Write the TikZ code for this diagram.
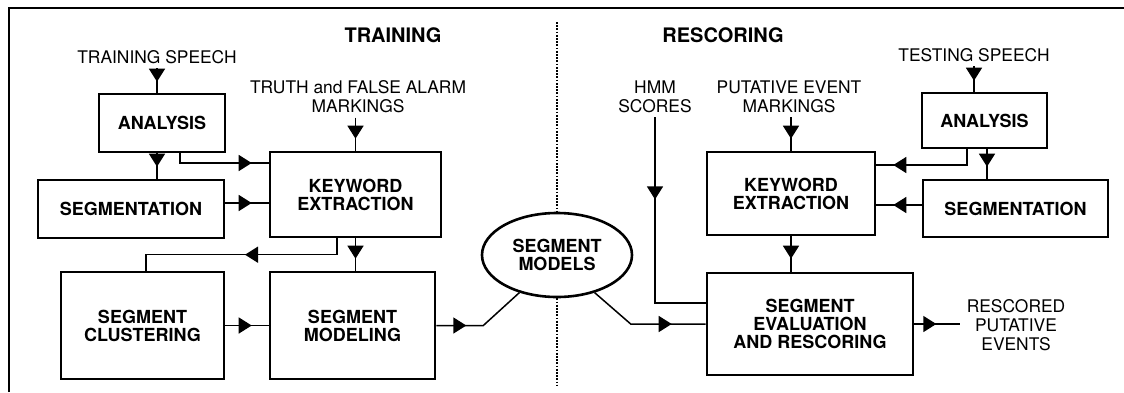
\documentclass[tikz,border=0pt]{standalone}
\usepackage{fontspec}
\setmainfont{TeX Gyre Heros}
\usetikzlibrary{arrows.meta,shapes.geometric,decorations.markings,calc}
\tikzset{
    block/.style={
           rectangle,
           draw=black, line width=1.3pt,
           font=\fontsize{9}{9}\selectfont\bfseries,
           align=center,
           inner sep=0pt,
           },
    lbl/.style={
           align=center, inner sep=2pt,
           font=\fontsize{8.7}{9.5}\selectfont,
           },
    conn/.style={line width=0.75pt},
    midarrow/.style={
           postaction={decorate},
           decoration={markings, mark=at position #1 with {\arrow{Triangle[length=6.5pt,width=8pt]}}},
           },
}

\begin{document}
\begin{tikzpicture}[x=0.5pt,y=-0.5pt]
        \useasboundingbox (0,0) rectangle (1124,392);
        \coordinate (frbl) at (9,392);
        \coordinate (frtl) at (9,8);
        \coordinate (frtr) at (1124,8);
        \draw[line width=0.8pt] (frbl) -- (frtl) -- (frtr);

        \node[lbl, font=\fontsize{10}{12}\selectfont\bfseries] (train) at (393,35) {TRAINING};
        \node[lbl, font=\fontsize{10}{12}\selectfont\bfseries] (rescore) at (723,35) {RESCORING};

        % training side
        \node[lbl] (tspeech) at (157,57) {TRAINING SPEECH};
        \node[lbl] (truth) at (358,97) {TRUTH and FALSE ALARM\\MARKINGS};
        \node[block, minimum width=63pt, minimum height=29pt] (anaL) at (162,123) {ANALYSIS};
        \node[block, minimum width=93pt, minimum height=29pt] (segL) at (131,209) {SEGMENTATION};
        \node[block, minimum width=85.5pt, minimum height=42.5pt] (keL) at (355.5,194.5) {KEYWORD\\EXTRACTION};
        \node[block, minimum width=81.5pt, minimum height=53.5pt] (cluL) at (142.5,325.5) {SEGMENT\\CLUSTERING};
        \node[block, minimum width=82.5pt, minimum height=53.5pt] (modL) at (352.5,325.5) {SEGMENT\\MODELING};

        \node[block, ellipse, minimum width=75pt, minimum height=42pt] (models) at (557,255) {SEGMENT\\MODELS};

        % rescoring side
        \node[lbl] (hmm) at (655,97) {HMM\\SCORES};
        \node[lbl] (put) at (789,97) {PUTATIVE EVENT\\MARKINGS};
        \node[lbl] (tspeechR) at (974,55) {TESTING SPEECH};
        \node[block, minimum width=84pt, minimum height=41.5pt] (keR) at (791,193.5) {KEYWORD\\EXTRACTION};
        \node[block, minimum width=62.5pt, minimum height=27.5pt] (anaR) at (984.5,120.5) {ANALYSIS};
        \node[block, minimum width=92.5pt, minimum height=28.5pt] (segR) at (1015.5,208.5) {SEGMENTATION};
        \node[block, minimum width=103pt, minimum height=51pt] (evalR) at (810,324) {SEGMENT\\EVALUATION\\AND RESCORING};
        \node[lbl, inner sep=3pt] (resc) at (1016,325) {RESCORED\\PUTATIVE\\EVENTS};

        \coordinate (divtop) at (557,22);
        \coordinate (divbot) at (557,385);
        \draw[line width=0.7pt, dash pattern=on 0.9pt off 0.7pt] (divtop) -- (models.north)
            (models.south) -- (divbot);

        \coordinate (aLout) at ($(anaL.south)+(-5,0)$);
        \coordinate (aLkey) at ($(anaL.south)+(18,0)$);
        \coordinate (sLkey) at ($(segL.east)+(0,-6)$);
        \coordinate (kLclu) at ($(keL.south)+(-18.5,0)$);
        \coordinate (cbend) at ($(cluL.north)+(3.5,-16)$);

        \draw[conn, midarrow=-5.5pt] (tspeech.south) -- (tspeech.south |- anaL.north);
        \draw[conn, midarrow=-6pt] (truth.south -| keL.north) -- (keL.north);
        \draw[conn, midarrow=-6pt] (aLout) -- (aLout |- segL.north);
        \draw[conn, midarrow=-8.5pt] (aLkey) |- ($(keL.west)+(0,-31.5)$);
        \draw[conn, midarrow=-8.5pt] (sLkey) -- (sLkey -| keL.west);
        \draw[conn, midarrow=-6pt] (keL.south) -- (keL.south |- modL.north);
        \draw[conn, midarrow=-57.5pt] (kLclu) |- (cbend) -- (cbend |- cluL.north);
        \draw[conn, midarrow=-8.5pt] (cluL) -- (modL);
        \draw[conn, midarrow=15pt] (modL.east) -- ++(47,0) -- (models.225);

        \coordinate (aRkey) at ($(anaR.south)+(-17.5,0)$);
        \coordinate (aRseg) at ($(anaR.south)+(2.5,0)$);
        \coordinate (sRkey) at ($(segR.west)+(0,-3.5)$);

        \draw[conn, midarrow=-17pt] (models.-45) -- ($(evalR.west)+(-75,0)$) -- (evalR.west);
        \draw[conn, midarrow=41pt] (hmm.south) |- ($(evalR.west)+(0,-21)$);
        \draw[conn, midarrow=-6pt] (put.south -| keR.north) -- (keR.north);
        \draw[conn, midarrow=-5.5pt] (tspeechR.south) -- (tspeechR.south |- anaR.north);
        \draw[conn, midarrow=-8.5pt] (aRkey) |- ($(keR.east)+(0,-28.5)$);
        \draw[conn, midarrow=-6pt] (aRseg) -- (aRseg |- segR.north);
        \draw[conn, midarrow=-8.5pt] (sRkey) -- (sRkey -| keR.east);
        \draw[conn, midarrow=-6.5pt] (keR.south) -- (keR.south |- evalR.north);
        \draw[conn, midarrow=11pt] (evalR.east) -- (evalR.east -| resc.west);
    \end{tikzpicture}
\end{document}
